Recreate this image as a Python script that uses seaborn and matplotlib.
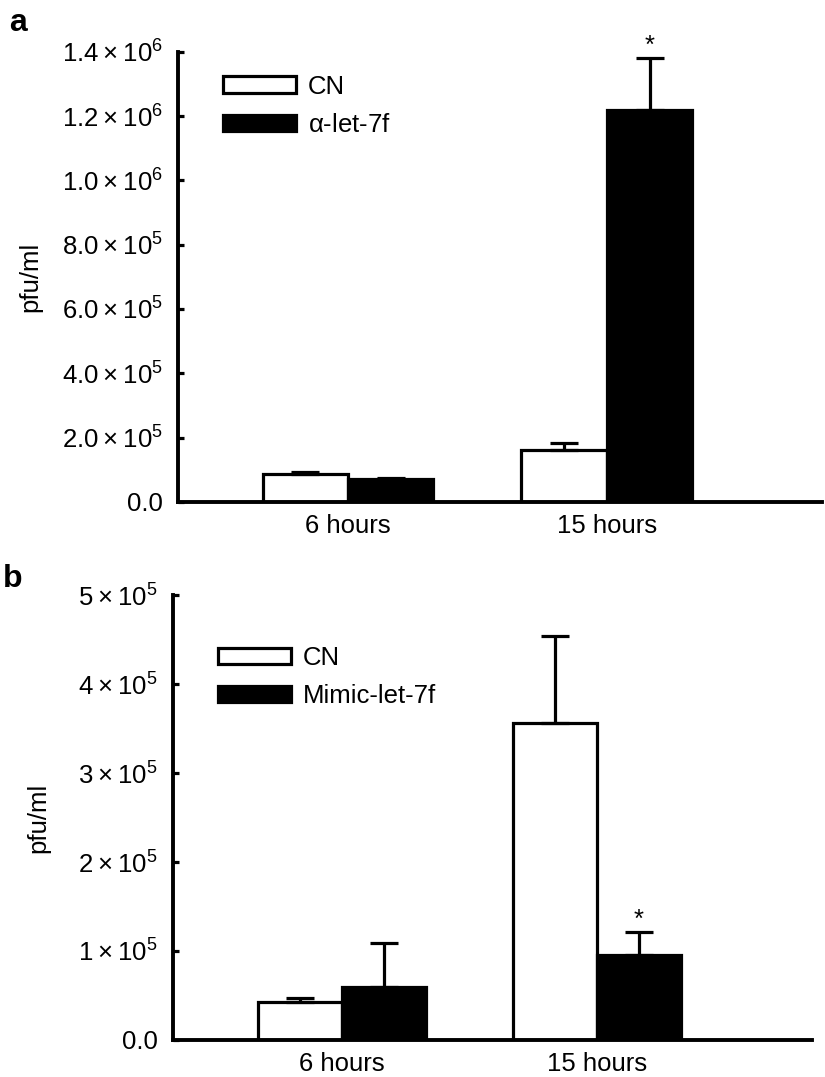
import numpy as np
import pandas as pd
import matplotlib
matplotlib.use('Agg')
import matplotlib.pyplot as plt
import seaborn as sns

sns.set_style('white')
plt.rcParams['font.family'] = ['Liberation Sans', 'DejaVu Sans']
plt.rcParams['mathtext.default'] = 'regular'
plt.rcParams['text.color'] = 'black'
plt.rcParams['axes.labelcolor'] = 'black'

# data
times = ['6 hours', '15 hours']

a_groups = ['CN', r'$\alpha$-let-7f']
a_cn = [8.6e4, 1.62e5]
a_cn_err = [0.7e4, 0.22e5]
a_let7f = [7.0e4, 1.22e6]
a_let7f_err = [0.5e4, 1.6e5]
a_yticks = [0, 2e5, 4e5, 6e5, 8e5, 1.0e6, 1.2e6, 1.4e6]
a_yticklabels = ['0.0', r'$2.0\times10^{5}$', r'$4.0\times10^{5}$', r'$6.0\times10^{5}$',
                 r'$8.0\times10^{5}$', r'$1.0\times10^{6}$', r'$1.2\times10^{6}$',
                 r'$1.4\times10^{6}$']

b_groups = ['CN', 'Mimic-let-7f']
b_cn = [4.3e4, 3.56e5]
b_cn_err = [0.4e4, 0.98e5]
b_mimic = [6.0e4, 9.6e4]
b_mimic_err = [4.9e4, 2.5e4]
b_yticks = [0, 1e5, 2e5, 3e5, 4e5, 5e5]
b_yticklabels = ['0.0', r'$1\times10^{5}$', r'$2\times10^{5}$', r'$3\times10^{5}$',
                 r'$4\times10^{5}$', r'$5\times10^{5}$']

LW = 2.3
FS = 18.5


def draw_panel(ax, groups, means, errs, yticks, yticklabels, xlim, star_idx, leg_anchor, ylab_x):
    df = pd.DataFrame({
        'time': times * 2,
        'group': [groups[0]] * 2 + [groups[1]] * 2,
        'value': means[0] + means[1],
    })
    sns.barplot(data=df, x='time', y='value', hue='group', hue_order=groups,
                palette={groups[0]: 'white', groups[1]: 'black'},
                edgecolor='black', linewidth=LW, width=0.66, errorbar=None,
                saturation=1, ax=ax)
    for cont, m, e in zip(ax.containers, means, errs):
        xs = [b.get_x() + b.get_width() / 2 for b in cont]
        ax.errorbar(xs, m, yerr=[np.zeros(len(e)), e], fmt='none', ecolor='black',
                    elinewidth=LW, capsize=10, capthick=LW, zorder=1)
    # significance star
    gi, ti = star_idx
    bar = ax.containers[gi][ti]
    ax.text(bar.get_x() + bar.get_width() / 2, means[gi][ti] + errs[gi][ti],
            '*', ha='center', va='bottom', fontsize=FS)

    ax.set_xlim(*xlim)
    ax.set_ylim(yticks[0], yticks[-1])
    ax.set_yticks(yticks)
    ax.set_yticklabels(yticklabels)
    ax.set_xlabel('')
    ax.set_ylabel('pfu/ml', fontsize=FS)
    ax.yaxis.set_label_coords(ylab_x, 0.5)
    sns.despine(ax=ax)
    for s in ['left', 'bottom']:
        ax.spines[s].set_linewidth(LW + 0.5)
        ax.spines[s].set_color('black')
    ax.tick_params(axis='y', direction='in', length=4, width=LW, labelsize=FS, pad=11,
                   left=True, colors='black')
    ax.tick_params(axis='x', length=0, labelsize=FS, pad=9, colors='black')

    old = ax.get_legend()
    handles = old.legend_handles
    labels = [t.get_text() for t in old.get_texts()]
    old.remove()
    for h in handles:
        h.set_edgecolor('black')
        h.set_linewidth(LW)
    ax.legend(handles, labels, loc='upper left', bbox_to_anchor=leg_anchor,
              frameon=False, fontsize=FS, handlelength=2.85, handleheight=0.6,
              handletextpad=0.45, labelspacing=0.55, borderpad=0, borderaxespad=0,
              labelcolor='black')


fig = plt.figure(figsize=(8.25, 10.77), dpi=100)
ax_a = fig.add_axes([0.216, 0.534, 0.780, 0.418])
ax_b = fig.add_axes([0.210, 0.0344, 0.774, 0.413])

draw_panel(ax_a, a_groups, [a_cn, a_let7f], [a_cn_err, a_let7f_err],
           a_yticks, a_yticklabels, (-0.656, 1.83), (1, 1), (0.07, 0.949), -0.211)
draw_panel(ax_b, b_groups, [b_cn, b_mimic], [b_cn_err, b_mimic_err],
           b_yticks, b_yticklabels, (-0.663, 1.843), (1, 1), (0.07, 0.886), -0.192)

fig.text(0.011, 1 - 31 / 1077, 'a', fontsize=23, fontweight='bold', va='baseline')
fig.text(0.003, 1 - 587 / 1077, 'b', fontsize=23, fontweight='bold', va='baseline')

fig.savefig('out.png', dpi=100, facecolor='white')
